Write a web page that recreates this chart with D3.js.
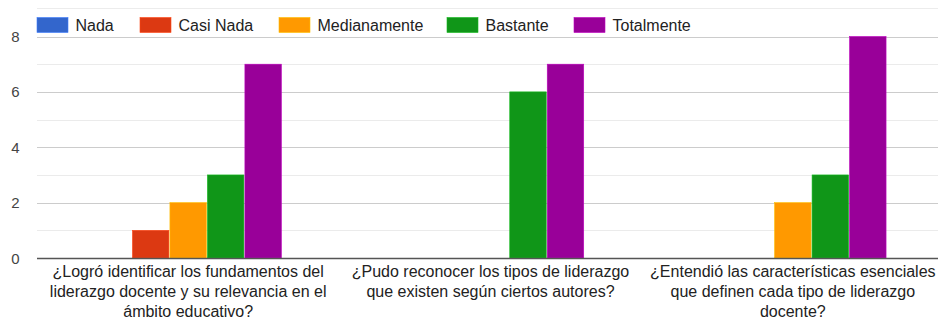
<!DOCTYPE html>
<html>
<head>
<meta charset="utf-8">
<script src="https://cdn.jsdelivr.net/npm/d3@7"></script>
<style>
  body { margin: 0; background: #fff; }
  svg { display: block; font-family: "Liberation Sans", Arial, sans-serif; }
</style>
</head>
<body>
<div id="chart"></div>
<script>
const questions = [
    ["¿Logró identificar los fundamentos del", "liderazgo docente y su relevancia en el", "ámbito educativo?"],
    ["¿Pudo reconocer los tipos de liderazgo", "que existen según ciertos autores?"],
    ["¿Entendió las características esenciales", "que definen cada tipo de liderazgo", "docente?"]
];
const seriesNames = ["Nada", "Casi Nada", "Medianamente", "Bastante", "Totalmente"];
const seriesColors = ["#3366cc", "#dc3912", "#ff9900", "#109618", "#990099"];
const nada = [0, 0, 0];
const casiNada = [1, 0, 0];
const medianamente = [2, 0, 2];
const bastante = [3, 6, 3];
const totalmente = [7, 7, 8];
const yTicks = [0, 2, 4, 6, 8];
const yMinor = [1, 3, 5, 7];

const seriesValues = [nada, casiNada, medianamente, bastante, totalmente];

const width = 938, height = 322;
const plotLeft = 37, plotRight = 944, plotTop = 36.5, plotBottom = 258;

const svg = d3.select("#chart").append("svg")
    .attr("width", width)
    .attr("height", height);

const x0 = d3.scaleBand()
    .domain(d3.range(questions.length))
    .range([plotLeft, plotRight])
    .paddingInner(0.38)
    .paddingOuter(0.19);

const x1 = d3.scaleBand()
    .domain(seriesNames)
    .range([0, x0.bandwidth()]);

const y = d3.scaleLinear().domain([0, 8]).range([plotBottom, plotTop]);

// faint top border
svg.append("line")
    .attr("x1", 37).attr("x2", width)
    .attr("y1", 8.5).attr("y2", 8.5)
    .attr("stroke", "#ececec");

// gridlines
svg.append("g").selectAll("line")
    .data(yMinor)
    .join("line")
    .attr("x1", plotLeft).attr("x2", width)
    .attr("y1", d => Math.round(y(d)) + 0.5).attr("y2", d => Math.round(y(d)) + 0.5)
    .attr("stroke", "#ebebeb");

svg.append("g").selectAll("line")
    .data(yTicks.filter(d => d > 0))
    .join("line")
    .attr("x1", plotLeft).attr("x2", width)
    .attr("y1", d => Math.round(y(d)) + 0.5).attr("y2", d => Math.round(y(d)) + 0.5)
    .attr("stroke", "#cccccc");

// y tick labels
svg.append("g").selectAll("text")
    .data(yTicks)
    .join("text")
    .attr("x", 19.5)
    .attr("y", d => y(d) + 5.5)
    .attr("text-anchor", "end")
    .attr("fill", "#444")
    .style("font-size", "15px")
    .text(d => d);

// bars
const groups = svg.append("g").selectAll("g")
    .data(questions.map((q, i) => i))
    .join("g")
    .attr("transform", i => `translate(${x0(i)},0)`);

groups.selectAll("rect")
    .data(i => seriesNames.map((s, k) => ({ series: s, value: seriesValues[k][i], color: seriesColors[k] })))
    .join("rect")
    .attr("x", d => x1(d.series) + 0.5)
    .attr("width", x1.bandwidth() - 1)
    .attr("y", d => y(d.value))
    .attr("height", d => plotBottom - y(d.value))
    .attr("fill", d => d.color)
    .attr("stroke", d => d3.color(d.color).brighter(0.6))
    .attr("stroke-width", 0.6)
    .style("display", d => d.value > 0 ? null : "none");

// baseline
svg.append("line")
    .attr("x1", plotLeft).attr("x2", width)
    .attr("y1", plotBottom + 0.5).attr("y2", plotBottom + 0.5)
    .attr("stroke", "#555")
    .attr("stroke-width", 1.6);

// category labels
const labels = svg.append("g").selectAll("text")
    .data(questions.map((q, i) => i))
    .join("text")
    .attr("x", i => x0(i) + x0.bandwidth() / 2)
    .attr("y", 277)
    .attr("text-anchor", "middle")
    .attr("fill", "#222")
    .style("font-size", "16px");

labels.each(function (i) {
    const el = d3.select(this);
    questions[i].forEach((line, j) => {
        el.append("tspan")
            .attr("x", x0(i) + x0.bandwidth() / 2)
            .attr("dy", j === 0 ? 0 : 20)
            .text(line);
    });
});

// legend
const legendX = [37, 140, 279, 447, 574];
const legend = svg.append("g").selectAll("g")
    .data(seriesNames.map((s, k) => k))
    .join("g")
    .attr("transform", k => `translate(${legendX[k]},17.5)`);

legend.append("rect")
    .attr("width", 31)
    .attr("height", 15)
    .attr("fill", k => seriesColors[k])
    .attr("stroke", k => d3.color(seriesColors[k]).brighter(0.6))
    .attr("stroke-width", 0.6);

legend.append("text")
    .attr("x", 38.5)
    .attr("y", 13)
    .attr("fill", "#222")
    .style("font-size", "16px")
    .text(k => seriesNames[k]);
</script>
</body>
</html>
